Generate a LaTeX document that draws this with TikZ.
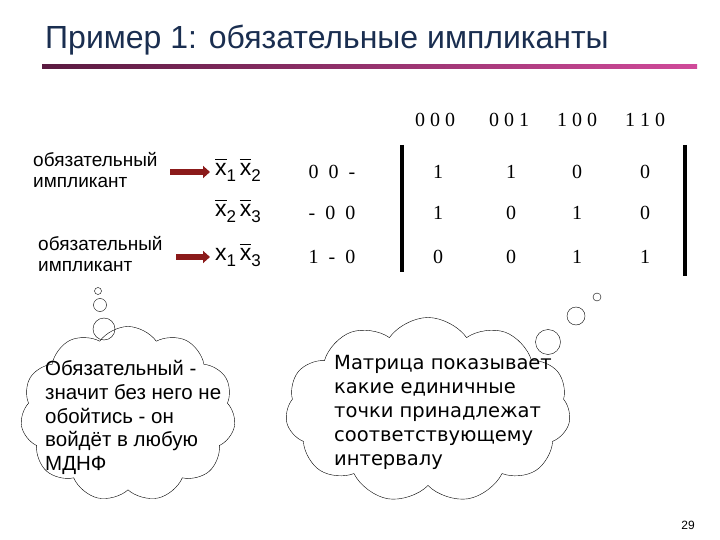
\documentclass[tikz,border=0pt]{standalone}
\usepackage{fontspec}
\setmainfont{Liberation Sans}
\newfontfamily\serifnum{Liberation Serif}
\newfontfamily\dvs{DejaVu Sans}
\usetikzlibrary{shapes.symbols,arrows.meta}
\definecolor{titlec}{HTML}{1A2E50}
\definecolor{plum}{HTML}{5A1A40}
\definecolor{pinkc}{HTML}{D04A9A}
\definecolor{arrc}{HTML}{8B1A1A}
\tikzset{
  lbl/.style={anchor=west,font=\fontsize{19}{21}\selectfont,align=left,inner sep=0},
  term/.style={anchor=west,font=\fontsize{23}{24}\selectfont,inner sep=0},
  pat/.style={font=\serifnum\fontsize{20}{22}\selectfont,inner sep=0},
  val/.style={font=\serifnum\fontsize{20}{22}\selectfont,inner sep=0},
  bar/.style={line width=3.5pt},
  harrow/.style={-{Triangle[length=7pt,width=12pt]},line width=6pt,arrc},
  cloudbox/.style={cloud,cloud puffs=11,cloud puff arc=110,draw,aspect=1.2,inner sep=0},
  bub/.style={draw,circle,inner sep=0},
  ctext/.style={anchor=north west,align=left,inner sep=0}
}
\newcommand{\obx}{\leavevmode\vbox{\hrule height 1.6pt\kern 3pt\hbox{x}}}
\newcommand{\subn}[1]{\raisebox{-6pt}{\fontsize{17}{17}\selectfont #1}}
\begin{document}
\begin{tikzpicture}[x=1pt,y=-1pt]
\useasboundingbox (0,0) rectangle (720,540);
\node[anchor=west,text=titlec,font=\fontsize{32}{34}\selectfont,inner sep=0] (title) at (45,40) {Пример 1: обязательные импликанты};
\shade[left color=plum,right color=pinkc] (42,65) rectangle (697,69);
% headers
\node[pat] (h1) at (435,120) {0 0 0};
\node[pat] (h2) at (509,120) {0 0 1};
\node[pat] (h3) at (577,120) {1 0 0};
\node[pat] (h4) at (645,120) {1 1 0};
% labels
\node[lbl] (l1) at (33,170) {обязательный\\импликант};
\node[lbl] (l2) at (38,254) {обязательный\\импликант};
\coordinate (a1s) at (170,172); \coordinate (a1e) at (210,172);
\coordinate (a2s) at (176,257); \coordinate (a2e) at (210,257);
\draw[harrow] (a1s) -- (a1e);
\draw[harrow] (a2s) -- (a2e);
% terms
\node[term] (t1) at (215,170) {\obx\subn{1}\,\obx\subn{2}};
\node[term] (t2) at (215,211) {\obx\subn{2}\,\obx\subn{3}};
\node[term] (t3) at (215,255) {x\subn{1}\,\obx\subn{3}};
% patterns
\node[pat] (p1) at (332,172) {0\enspace 0\enspace -};
\node[pat] (p2) at (332,213) {-\enspace 0\enspace 0};
\node[pat] (p3) at (332,257) {1\enspace -\enspace 0};
% bars
\coordinate (b1t) at (402,145); \coordinate (b1b) at (402,272);
\coordinate (b2t) at (685,145); \coordinate (b2b) at (685,276);
\draw[bar] (b1t) -- (b1b);
\draw[bar] (b2t) -- (b2b);
% values
\foreach \r/\y/\a/\b/\c/\d in {1/172/1/1/0/0, 2/213/1/0/1/0, 3/257/0/0/1/1}{
  \node[val] (v\r a) at (438,\y) {\a};
  \node[val] (v\r b) at (511,\y) {\b};
  \node[val] (v\r c) at (577,\y) {\c};
  \node[val] (v\r d) at (645,\y) {\d};
}
% left cloud
\node[cloudbox,minimum width=215pt,minimum height=175pt] (c1) at (128,414) {};
\node[bub,minimum size=7pt] (bl1) at (98,291) {};
\node[bub,minimum size=13pt] (bl2) at (100,305) {};
\node[bub,minimum size=22pt] (bl3) at (104,329) {};
\node[ctext,font=\fontsize{20.5}{23.8}\selectfont] (ct1) at (45,360) {Обязательный -\\значит без него не\\обойтись - он\\войдёт в любую\\МДНФ};
% right cloud
\node[cloudbox,minimum width=285pt,minimum height=185pt] (c2) at (428,410) {};
\node[bub,minimum size=8pt] (br1) at (597,297) {};
\node[bub,minimum size=18pt] (br2) at (576,316) {};
\node[bub,minimum size=25pt] (br3) at (548,342) {};
\node[ctext,font=\dvs\fontsize{19.5}{24}\selectfont] (ct2) at (334,355) {Матрица показывает\\какие единичные\\точки принадлежат\\соответствующему\\интервалу};
\node[font=\fontsize{12}{14}\selectfont,inner sep=0] (pg) at (688,525) {29};
\end{tikzpicture}
\end{document}
